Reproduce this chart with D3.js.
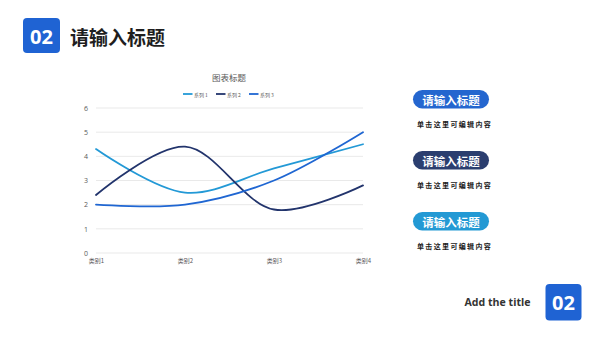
<!DOCTYPE html>
<html>
<head>
<meta charset="utf-8">
<script src="https://cdn.jsdelivr.net/npm/d3@7/dist/d3.min.js"></script>
<style>
  html, body { margin: 0; padding: 0; background: #fff; }
  svg { display: block; font-family: "Noto Sans CJK SC", "Noto Sans", sans-serif; }
</style>
</head>
<body>
<svg id="chart" width="600" height="338"></svg>
<script>
// Chart data
const categories = ["类别1", "类别2", "类别3", "类别4"];
const seriesNames = ["系列 1", "系列 2", "系列 3"];
const series1 = [4.3, 2.5, 3.5, 4.5];
const series2 = [2.4, 4.4, 1.8, 2.8];
const series3 = [2.0, 2.0, 3.0, 5.0];
const yTicks = [0, 1, 2, 3, 4, 5, 6];
const seriesColors = ["#2399d6", "#22346c", "#1f66d2"];

// Side panel content
const cardTitles = ["请输入标题", "请输入标题", "请输入标题"];
const cardTexts = ["单击这里可编辑内容", "单击这里可编辑内容", "单击这里可编辑内容"];
const cardColors = ["#2466cf", "#2b3e6f", "#2399d4"];

const svg = d3.select("#chart");

// ---- Header ----
const boxBlue = "#1f63d3";
svg.append("rect").attr("x", 23).attr("y", 18).attr("width", 37).attr("height", 35)
  .attr("rx", 4).attr("fill", boxBlue);
svg.append("text").attr("x", 41.5).attr("y", 36).attr("text-anchor", "middle")
  .attr("dominant-baseline", "central").attr("fill", "#fff")
  .attr("font-family", "'Open Sans', sans-serif").attr("font-weight", 700)
  .attr("font-size", 20).text("02");
svg.append("text").attr("x", 70).attr("y", 36).attr("dominant-baseline", "central")
  .attr("fill", "#1e1e1e").attr("font-weight", 700).attr("font-size", 19)
  .text("请输入标题");

// ---- Line chart ----
const x = d3.scalePoint().domain(categories).range([96, 363]).padding(0);
const y = d3.scaleLinear().domain([0, 6]).range([253, 108]);

const g = svg.append("g");

// Grid lines
g.selectAll(".grid").data(yTicks).join("line")
  .attr("x1", 96).attr("x2", 363)
  .attr("y1", d => y(d)).attr("y2", d => y(d))
  .attr("stroke", "#e3e3e3").attr("stroke-width", 0.8);

// Y axis labels
const yAxis = d3.axisLeft(y).tickValues(yTicks).tickFormat(d3.format("d"))
  .tickSize(0).tickPadding(8);
const ya = g.append("g").attr("transform", "translate(96,0)").call(yAxis);
ya.select(".domain").remove();
ya.selectAll("text").attr("fill", "#595959").attr("font-size", 7)
  .attr("font-family", "'Open Sans', sans-serif");

// X axis labels
const xAxis = d3.axisBottom(x).tickSize(0).tickPadding(6);
const xa = g.append("g").attr("transform", "translate(0,253)").call(xAxis);
xa.select(".domain").remove();
xa.selectAll("text").attr("fill", "#595959").attr("font-size", 6)
  .attr("font-family", "'Noto Sans CJK SC', sans-serif");

// Smoothed lines
const allSeries = [series1, series2, series3];
const line = d3.line()
  .x((d, i) => x(categories[i]))
  .y(d => y(d))
  .curve(d3.curveCatmullRom.alpha(0.5));

g.selectAll(".series").data(allSeries).join("path")
  .attr("d", d => line(d))
  .attr("fill", "none")
  .attr("stroke", (d, i) => seriesColors[i])
  .attr("stroke-width", 1.8)
  .attr("stroke-linecap", "round");

// Chart title
svg.append("text").attr("x", 229).attr("y", 77).attr("text-anchor", "middle")
  .attr("dominant-baseline", "central").attr("fill", "#595959")
  .attr("font-size", 8.5).text("图表标题");

// Legend
const legendX = [183, 216, 249];
const legend = svg.selectAll(".legend").data(seriesNames).join("g")
  .attr("transform", (d, i) => `translate(${legendX[i]},94)`);
legend.append("line").attr("x1", 0).attr("x2", 9.5).attr("y1", 0).attr("y2", 0)
  .attr("stroke", (d, i) => seriesColors[i]).attr("stroke-width", 1.8);
legend.append("text").attr("x", 11).attr("y", 0).attr("dominant-baseline", "central")
  .attr("fill", "#595959").attr("font-size", 5).text(d => d);

// ---- Side cards ----
const cardY = [90, 151, 212];
const cards = svg.selectAll(".card").data(cardTitles).join("g")
  .attr("transform", (d, i) => `translate(413,${cardY[i]})`);
cards.append("rect").attr("width", 76).attr("height", 18.5).attr("rx", 9.25)
  .attr("fill", (d, i) => cardColors[i]);
cards.append("text").attr("x", 38).attr("y", 9.5).attr("text-anchor", "middle")
  .attr("dominant-baseline", "central").attr("fill", "#fff")
  .attr("font-weight", 700).attr("font-size", 11.5).text(d => d);
cards.append("text").attr("x", 4).attr("y", 33.5)
  .attr("dominant-baseline", "central").attr("fill", "#1a1a1a")
  .attr("font-weight", 700).attr("font-size", 7).attr("letter-spacing", 1.35)
  .text((d, i) => cardTexts[i]);

// ---- Footer ----
svg.append("text").attr("x", 530.5).attr("y", 302).attr("text-anchor", "end")
  .attr("dominant-baseline", "central").attr("fill", "#333")
  .attr("font-family", "'Open Sans', sans-serif").attr("font-weight", 700)
  .attr("font-size", 10.6).text("Add the title");
svg.append("rect").attr("x", 545.5).attr("y", 284).attr("width", 36).attr("height", 36.5)
  .attr("rx", 4).attr("fill", boxBlue);
svg.append("text").attr("x", 563.5).attr("y", 302.5).attr("text-anchor", "middle")
  .attr("dominant-baseline", "central").attr("fill", "#fff")
  .attr("font-family", "'Open Sans', sans-serif").attr("font-weight", 700)
  .attr("font-size", 20).text("02");
</script>
</body>
</html>
